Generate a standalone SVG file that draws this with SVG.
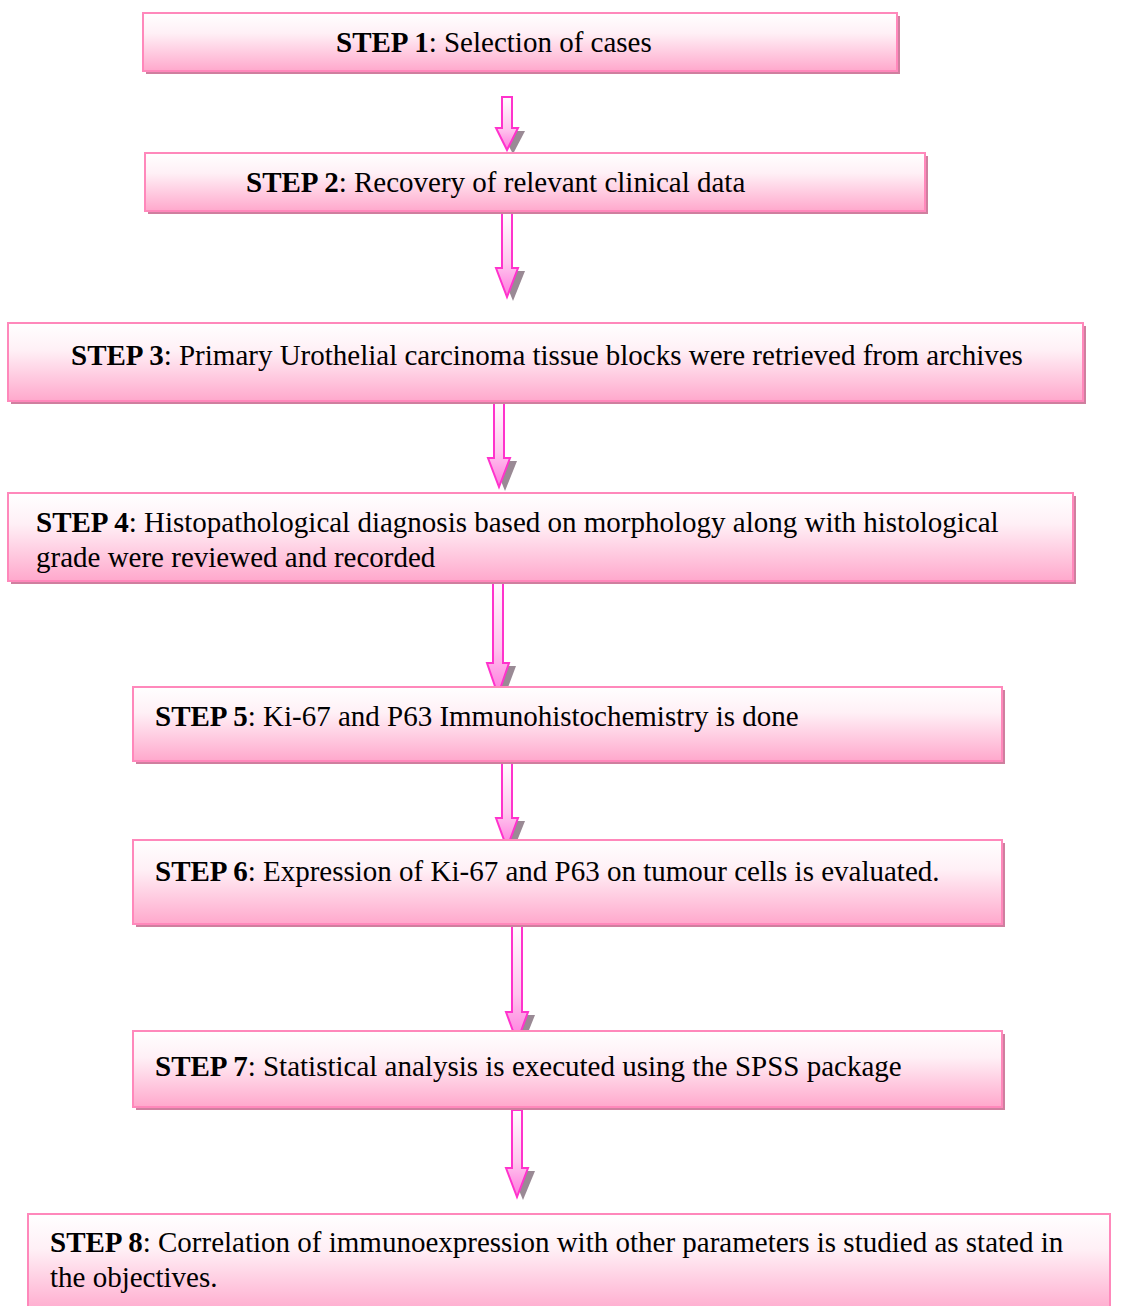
<svg xmlns="http://www.w3.org/2000/svg" width="1130" height="1306" viewBox="0 0 1130 1306">
<defs>
<linearGradient id="boxg" x1="0" y1="0" x2="0" y2="1">
<stop offset="0" stop-color="#ffffff"/>
<stop offset="0.35" stop-color="#fff0f6"/>
<stop offset="1" stop-color="#ffa8cc"/>
</linearGradient>
<linearGradient id="arrg" x1="0" y1="0" x2="0" y2="1">
<stop offset="0" stop-color="#ffffff"/>
<stop offset="0.6" stop-color="#ffc6ee"/>
<stop offset="1" stop-color="#ff77dd"/>
</linearGradient>
<style>
.sh{fill:#cf7f9f}
.bx{fill:url(#boxg);stroke:#ff88bb;stroke-width:2}
.t{font-family:"Liberation Serif","Times New Roman",serif;font-size:29px;fill:#000}
.b{font-weight:bold}
.ash{fill:#9a8a95}
.ar{fill:url(#arrg);stroke:#ff33cc;stroke-width:2;stroke-linejoin:miter}
</style>
</defs>
<rect width="1130" height="1306" fill="#ffffff"/>
<g id="connectors">
<path class="ash" d="M515,131 H525 L513,154 L501,131 Z"/>
<path class="ar" d="M502,97 H512 V128 H518 L507,150 L496,128 H502 Z"/>
<path class="ash" d="M515,271 H525 L513,301 L501,271 Z"/>
<path class="ar" d="M502,213 H512 V268 H518 L507,297 L496,268 H502 Z"/>
<path class="ash" d="M507,461 H517 L505,491 L493,461 Z"/>
<path class="ar" d="M494,400 H504 V458 H510 L499,487 L488,458 H494 Z"/>
<path class="ash" d="M506,666 H516 L504,698 L492,666 Z"/>
<path class="ar" d="M493,578 H503 V663 H509 L498,695 L487,663 H493 Z"/>
<path class="ash" d="M515,821 H525 L513,851 L501,821 Z"/>
<path class="ar" d="M502,762 H512 V818 H518 L507,848 L496,818 H502 Z"/>
<path class="ash" d="M525,1015 H535 L523,1045 L511,1015 Z"/>
<path class="ar" d="M512,923 H522 V1012 H528 L517,1042 L506,1012 H512 Z"/>
<path class="ash" d="M525,1171 H535 L523,1200 L511,1171 Z"/>
<path class="ar" d="M512,1110 H522 V1168 H528 L517,1197 L506,1168 H512 Z"/>
</g>
<g id="step1">
<rect class="sh" x="146" y="16" width="754" height="58"/>
<rect class="bx" x="143" y="13" width="754" height="58"/>
<text class="t" x="336" y="52"><tspan class="b">STEP 1</tspan>: Selection of cases</text>
</g>
<g id="step2">
<rect class="sh" x="148" y="156" width="780" height="58"/>
<rect class="bx" x="145" y="153" width="780" height="58"/>
<text class="t" x="246" y="192"><tspan class="b">STEP 2</tspan>: Recovery of relevant clinical data</text>
</g>
<g id="step3">
<rect class="sh" x="11" y="326" width="1075" height="78"/>
<rect class="bx" x="8" y="323" width="1075" height="78"/>
<text class="t" x="71" y="365"><tspan class="b">STEP 3</tspan>: Primary Urothelial carcinoma tissue blocks were retrieved from archives</text>
</g>
<g id="step4">
<rect class="sh" x="11" y="496" width="1065" height="88"/>
<rect class="bx" x="8" y="493" width="1065" height="88"/>
<text class="t" x="36" y="532"><tspan class="b">STEP 4</tspan>: Histopathological diagnosis based on morphology along with histological</text>
<text class="t" x="36" y="567">grade were reviewed and recorded</text>
</g>
<g id="step5">
<rect class="sh" x="136" y="690" width="869" height="74"/>
<rect class="bx" x="133" y="687" width="869" height="74"/>
<text class="t" x="155" y="726"><tspan class="b">STEP 5</tspan>: Ki-67 and P63 Immunohistochemistry is done</text>
</g>
<g id="step6">
<rect class="sh" x="136" y="843" width="869" height="84"/>
<rect class="bx" x="133" y="840" width="869" height="84"/>
<text class="t" x="155" y="881"><tspan class="b">STEP 6</tspan>: Expression of Ki-67 and P63 on tumour cells is evaluated.</text>
</g>
<g id="step7">
<rect class="sh" x="136" y="1034" width="869" height="76"/>
<rect class="bx" x="133" y="1031" width="869" height="76"/>
<text class="t" x="155" y="1076"><tspan class="b">STEP 7</tspan>: Statistical analysis is executed using the SPSS package</text>
</g>
<g id="step8">
<rect class="bx" x="28" y="1214" width="1082" height="100"/>
<text class="t" x="50" y="1252"><tspan class="b">STEP 8</tspan>: Correlation of immunoexpression with other parameters is studied as stated in</text>
<text class="t" x="50" y="1287">the objectives.</text>
</g>
</svg>
